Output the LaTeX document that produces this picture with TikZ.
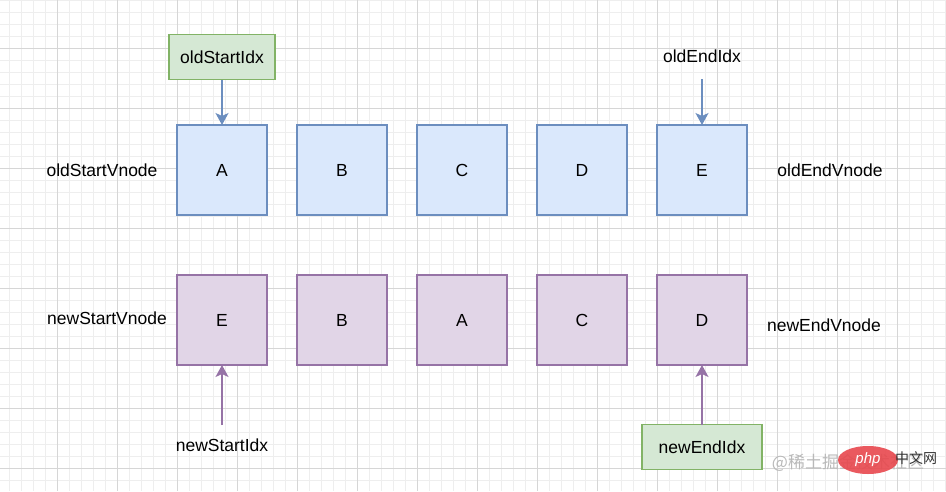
\documentclass[tikz,border=0pt]{standalone}
\usepackage{fontspec}
\setmainfont{Liberation Sans}
\newfontfamily\cjkfont{Noto Sans CJK SC}
\definecolor{OldFill}{RGB}{218, 232, 252}
\definecolor{OldLine}{RGB}{108, 142, 191}
\definecolor{NewFill}{RGB}{225, 213, 231}
\definecolor{NewLine}{RGB}{150, 115, 166}
\definecolor{IdxFill}{RGB}{213, 232, 212}
\definecolor{IdxLine}{RGB}{130, 179, 102}
\definecolor{GridMinor}{RGB}{238, 238, 238}
\definecolor{GridMajor}{RGB}{214, 214, 214}
\definecolor{PhpRed}{RGB}{232, 72, 78}
\usetikzlibrary{shapes.geometric, arrows.meta, positioning}

\begin{document}
\begin{tikzpicture}[
    x=1pt, y=-1pt,
    node distance=30pt and 30pt,
    font=\fontsize{17.5}{21}\selectfont,
    minorline/.style={GridMinor, line width=0.8pt},
    majorline/.style={GridMajor, line width=0.8pt},
    oldbox/.style={draw=OldLine, fill=OldFill, rectangle, minimum width=90pt, minimum height=90pt, inner sep=0pt, outer sep=0pt, line width=1.4pt},
    newbox/.style={oldbox, draw=NewLine, fill=NewFill},
    idxbox/.style={draw=IdxLine, fill=IdxFill, rectangle, minimum height=45pt, inner sep=0pt, outer sep=0pt, line width=1.4pt},
    idxtext/.style={rectangle, inner sep=0pt, outer sep=0pt},
    oldarrow/.style={-{Stealth[length=12pt, width=13pt, inset=3pt]}, line width=1.5pt, color=OldLine},
    newarrow/.style={-{Stealth[length=12pt, width=13pt, inset=3pt]}, line width=1.5pt, color=NewLine}
  ]
  \useasboundingbox (0,0) rectangle (946,491);
  \fill[white] (0,0) rectangle (946,491);
  % grid
  \foreach \x in {9,21,...,945} \draw[minorline] (\x,0) -- (\x,491);
  \foreach \y in {0,12,...,490} \draw[minorline] (0,\y) -- (946,\y);
  \foreach \x in {57,117,...,897} \draw[majorline] (\x,0) -- (\x,491);
  \foreach \y in {48,108,...,468} \draw[majorline] (0,\y) -- (946,\y);

  % old vnodes
  \node (a1) [oldbox] at (222,170) {A};
  \node (a2) [oldbox, right=of a1] {B};
  \node (a3) [oldbox, right=of a2] {C};
  \node (a4) [oldbox, right=of a3] {D};
  \node (a5) [oldbox, right=of a4] {E};

  % new vnodes
  \node (b1) [newbox] at (222,320) {E};
  \node (b2) [newbox, right=of b1] {B};
  \node (b3) [newbox, right=of b2] {A};
  \node (b4) [newbox, right=of b3] {C};
  \node (b5) [newbox, right=of b4] {D};

  \node (osv) at (102,170) {oldStartVnode};
  \node (oev) at (830,170) {oldEndVnode};
  \node (nsv) at (107,318) {newStartVnode};
  \node (nev) at (824,325) {newEndVnode};

  \node (osi) [idxbox, minimum width=106pt] at (222,57) {oldStartIdx};
  \node (oei) [idxtext, minimum height=46pt] at (702,56) {oldEndIdx};
  \node (nsi) [idxtext, minimum height=40pt] at (222,445) {newStartIdx};
  \node (nei) [idxbox, minimum width=120pt] at (702,447) {newEndIdx};

  \draw [oldarrow] (osi) -- (a1);
  \draw [oldarrow] (oei) -- (a5);
  \draw [newarrow] (nsi) -- (b1);
  \draw [newarrow] (nei) -- (b5);

  % watermark
  \node (mark) [text=gray!55] at (848,463) {\cjkfont\fontsize{17}{20}\selectfont @稀土掘金技术社区};
  \node (php) [ellipse, fill=PhpRed, fill opacity=0.9, minimum width=60pt, minimum height=28pt, inner sep=0pt, text=white, text opacity=1] at (868,460) {\fontsize{15}{18}\selectfont\itshape php};
  \node (phpcn) [text=black!80] at (916,458) {\cjkfont\fontsize{14}{16}\selectfont 中文网};
\end{tikzpicture}
\end{document}
